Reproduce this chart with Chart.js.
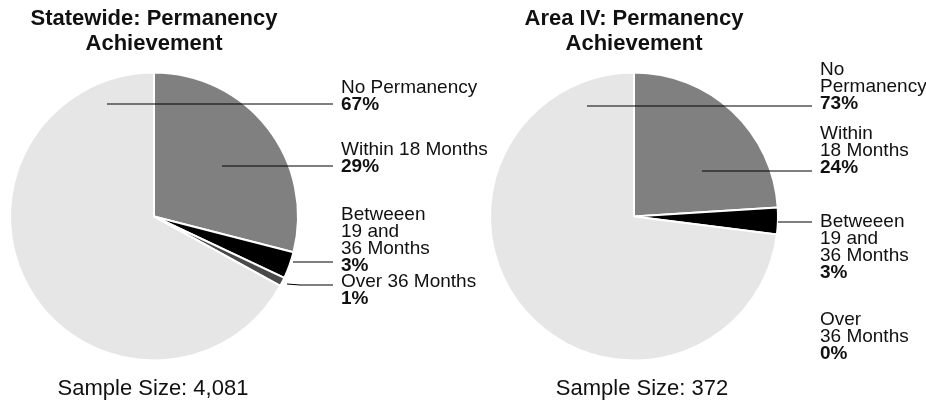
<!DOCTYPE html>
<html><head><meta charset="utf-8">
<script src="https://cdn.jsdelivr.net/npm/chart.js@4/dist/chart.umd.min.js"></script>
<style>
html,body{margin:0;padding:0;background:#fff;}
#wrap{position:relative;width:926px;height:407px;overflow:hidden;font-family:"Liberation Sans",Arial,sans-serif;color:#111;}
canvas{position:absolute;left:0;top:0;}
.t{position:absolute;text-align:center;font-weight:bold;font-size:22px;line-height:25px;width:320px;}
.s{position:absolute;text-align:center;font-size:22px;width:320px;}
</style></head>
<body><div id="wrap">
<canvas id="c1" width="926" height="407"></canvas>
<canvas id="c2" width="926" height="407"></canvas>
<div class="t" style="left:-6px;top:5px;">Statewide: Permanency<br>Achievement</div>
<div class="t" style="left:474px;top:5px;">Area IV: Permanency<br>Achievement</div>
<div class="s" style="left:-7px;top:375px;">Sample Size: 4,081</div>
<div class="s" style="left:482px;top:375px;">Sample Size: 372</div>
</div>
<script>
const categories = ['Within 18 Months', 'Betweeen 19 and 36 Months', 'Over 36 Months', 'No Permanency'];
const statewideValues = [29, 3, 1, 67];
const areaIVValues = [24, 3, 0, 73];
const sliceColors = ['#808080', '#000000', '#4a4a4a', '#e6e6e6'];

// label text layouts (line breaks) per chart
const statewideLines = [['Within 18 Months'], ['Betweeen', '19 and', '36 Months'], ['Over 36 Months'], ['No Permanency']];
const areaIVLines = [['Within', '18 Months'], ['Betweeen', '19 and', '36 Months'], ['Over', '36 Months'], ['No', 'Permanency']];

const labelPlugin = {
  id: 'pieLabels',
  afterDraw(chart, args, opts) {
    const ctx = chart.ctx;
    const vals = chart.data.datasets[0].data;
    ctx.save();
    opts.blocks.forEach(b => {
      const lines = opts.lines[b.i];
      ctx.fillStyle = '#111';
      ctx.textBaseline = 'alphabetic';
      ctx.textAlign = 'left';
      ctx.font = '19px "Liberation Sans", Arial, sans-serif';
      let y = b.y;
      lines.forEach(l => { ctx.fillText(l, b.x, y); y += opts.lh; });
      ctx.font = 'bold 19px "Liberation Sans", Arial, sans-serif';
      ctx.fillText(vals[b.i] + '%', b.x, y);
      if (b.leader) {
        ctx.strokeStyle = '#000';
        ctx.lineWidth = 1.2;
        ctx.beginPath();
        ctx.moveTo(b.leader[0], b.leader[1]);
        for (let k = 2; k < b.leader.length; k += 2) ctx.lineTo(b.leader[k], b.leader[k + 1]);
        ctx.stroke();
      }
    });
    ctx.restore();
  }
};

function makePie(id, values, lines, pad, blocks) {
  return new Chart(document.getElementById(id), {
    type: 'pie',
    data: { labels: categories, datasets: [{ data: values, backgroundColor: sliceColors, borderColor: '#ffffff', borderWidth: 2 }] },
    options: {
      responsive: false, animation: false, events: [],
      layout: { padding: pad },
      plugins: { legend: { display: false }, tooltip: { enabled: false }, title: { display: false },
        pieLabels: { lines: lines, lh: 17, blocks: blocks } }
    },
    plugins: [labelPlugin]
  });
}

makePie('c1', statewideValues, statewideLines,
  { left: 9, right: 627, top: 71, bottom: 45 },
  [
    { i: 3, x: 341, y: 93, leader: [107, 104, 333, 104] },
    { i: 0, x: 341, y: 155, leader: [222, 166, 333, 166] },
    { i: 1, x: 341, y: 220, leader: [293, 262, 333, 262] },
    { i: 2, x: 341, y: 287, leader: [287, 284, 300, 285, 333, 285] }
  ]);

makePie('c2', areaIVValues, areaIVLines,
  { left: 489, right: 147, top: 71, bottom: 45 },
  [
    { i: 3, x: 820, y: 75, leader: [587, 106, 812, 106] },
    { i: 0, x: 820, y: 139, leader: [702, 171, 812, 171] },
    { i: 1, x: 820, y: 227, leader: [778, 222, 812, 222] },
    { i: 2, x: 820, y: 325 }
  ]);
</script>
</body></html>
